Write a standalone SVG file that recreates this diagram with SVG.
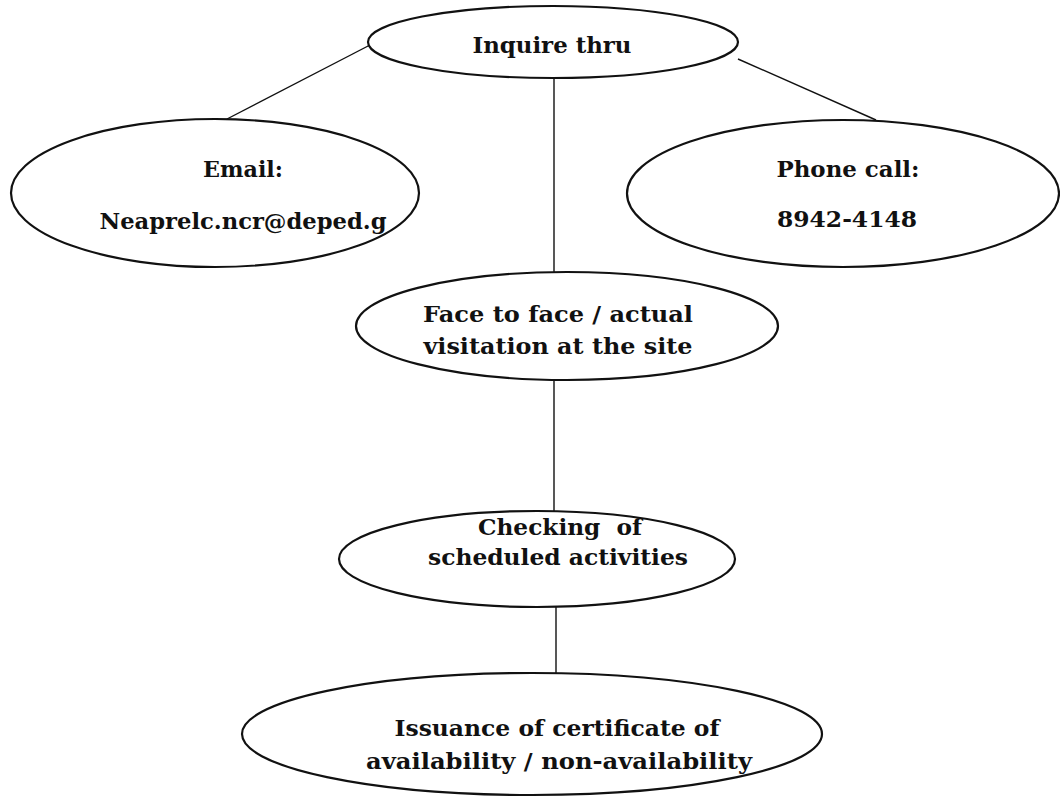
<svg xmlns="http://www.w3.org/2000/svg" width="1060" height="797" viewBox="0 0 1060 797">
<style>
.bg{fill:#ffffff}
.node{fill:#ffffff;stroke:#111111;stroke-width:2.2}
.conn{stroke:#111111;stroke-width:1.4;fill:none}
.t{font-family:"DejaVu Serif","Liberation Serif",serif;font-weight:bold;font-size:22.5px;fill:#111111;text-anchor:middle}
</style>
<rect class="bg" x="0" y="0" width="1060" height="797"/>
<g id="connectors">
<line class="conn" x1="370" y1="45" x2="227" y2="119"/>
<line class="conn" x1="738" y1="59" x2="876" y2="120"/>
<line class="conn" x1="554" y1="78" x2="554" y2="272"/>
<line class="conn" x1="554" y1="381" x2="554" y2="511"/>
<line class="conn" x1="556" y1="606" x2="556" y2="673"/>
</g>
<g id="node-inquire">
<ellipse class="node" cx="553" cy="42" rx="185" ry="36"/>
<text class="t" x="552" y="53" textLength="159" lengthAdjust="spacingAndGlyphs">Inquire thru</text>
</g>
<g id="node-email">
<ellipse class="node" cx="215" cy="193" rx="204" ry="74"/>
<text class="t" x="243" y="177" textLength="80" lengthAdjust="spacingAndGlyphs">Email:</text>
<text class="t" x="243" y="229" textLength="287" lengthAdjust="spacingAndGlyphs">Neaprelc.ncr@deped.g</text>
</g>
<g id="node-phone">
<ellipse class="node" cx="843" cy="193.5" rx="216" ry="73.5"/>
<text class="t" x="848" y="177" textLength="143" lengthAdjust="spacingAndGlyphs">Phone call:</text>
<text class="t" x="847" y="227" textLength="140" lengthAdjust="spacingAndGlyphs">8942-4148</text>
</g>
<g id="node-face">
<ellipse class="node" cx="567" cy="326" rx="211" ry="54"/>
<text class="t" x="558" y="322" textLength="270" lengthAdjust="spacingAndGlyphs">Face to face / actual</text>
<text class="t" x="558" y="354" textLength="269" lengthAdjust="spacingAndGlyphs">visitation at the site</text>
</g>
<g id="node-checking">
<ellipse class="node" cx="537" cy="559" rx="198" ry="48"/>
<text class="t" x="560" y="535" textLength="164" lengthAdjust="spacingAndGlyphs" xml:space="preserve">Checking  of</text>
<text class="t" x="558" y="565" textLength="260" lengthAdjust="spacingAndGlyphs">scheduled activities</text>
</g>
<g id="node-issuance">
<ellipse class="node" cx="532" cy="734" rx="290" ry="61"/>
<text class="t" x="557" y="736" textLength="325" lengthAdjust="spacingAndGlyphs">Issuance of certificate of</text>
<text class="t" x="559" y="769" textLength="386" lengthAdjust="spacingAndGlyphs">availability / non-availability</text>
</g>
</svg>
